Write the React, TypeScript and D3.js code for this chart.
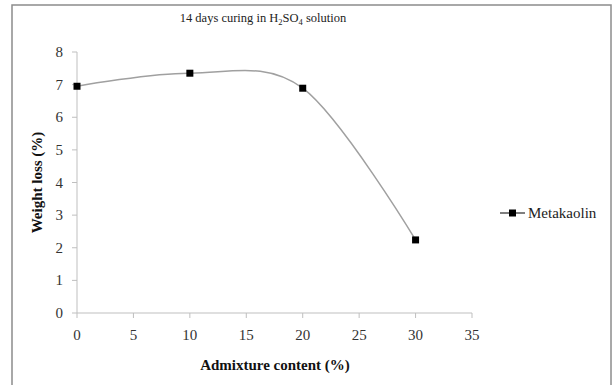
import React from "react";
import * as d3 from "d3";

const width = 612;
const height = 385;

// data
const admixture = [0, 10, 20, 30];
const weightLoss = [6.95, 7.35, 6.89, 2.24];
const xTicks = [0, 5, 10, 15, 20, 25, 30, 35];
const yTicks = [0, 1, 2, 3, 4, 5, 6, 7, 8];
const seriesName = "Metakaolin";

const plot = { left: 77, right: 472, top: 52, bottom: 313 };
const serif = "Liberation Serif, DejaVu Serif, serif";
const txt = { fontFamily: serif };

const App = () => {
  const x = d3.scaleLinear([0, 35], [plot.left, plot.right]);
  const y = d3.scaleLinear([0, 8], [plot.bottom, plot.top]);

  const points = admixture.map((a, i) => [a, weightLoss[i]] as [number, number]);
  const line = d3
    .line<[number, number]>()
    .x((d) => x(d[0]))
    .y((d) => y(d[1]))
    .curve(d3.curveCatmullRom.alpha(0));

  const legendY = 213;

  return (
    <svg
      width={width}
      height={height}
      viewBox={`0 0 ${width} ${height}`}
      style={{ position: "absolute", left: 0, top: 0, background: "#fff" }}
    >
      <rect x={12} y={5} width={599} height={400} fill="#fff" stroke="#8c8c8c" strokeWidth={1.5} />

      <text x={263} y={22} textAnchor="middle" fontSize={12.5} fill="#222" style={txt}>
        14 days curing in H
        <tspan fontSize={8.5} dy={3}>2</tspan>
        <tspan dy={-3}>SO</tspan>
        <tspan fontSize={8.5} dy={3}>4</tspan>
        <tspan dy={-3}> solution</tspan>
      </text>

      {/* y axis */}
      <line x1={plot.left} x2={plot.left} y1={plot.top} y2={plot.bottom} stroke="#bfbfbf" />
      {yTicks.map((t) => (
        <g key={"y" + t}>
          <line x1={plot.left - 5} x2={plot.left} y1={y(t)} y2={y(t)} stroke="#bfbfbf" />
          <text x={63} y={y(t) + 5} textAnchor="end" fontSize={15} fill="#333" style={txt}>
            {t}
          </text>
        </g>
      ))}

      {/* x axis */}
      <line x1={plot.left} x2={plot.right} y1={plot.bottom} y2={plot.bottom} stroke="#bfbfbf" />
      {xTicks.map((t) => (
        <g key={"x" + t}>
          <line x1={x(t)} x2={x(t)} y1={plot.bottom} y2={plot.bottom + 5} stroke="#bfbfbf" />
          <text x={x(t)} y={340} textAnchor="middle" fontSize={15} fill="#333" style={txt}>
            {t}
          </text>
        </g>
      ))}

      <text x={275} y={370} textAnchor="middle" fontSize={15} fontWeight="bold" fill="#111" style={txt}>
        Admixture content (%)
      </text>
      <text
        transform={`translate(42, ${(plot.top + plot.bottom) / 2}) rotate(-90)`}
        textAnchor="middle"
        fontSize={15}
        fontWeight="bold"
        fill="#111"
        style={txt}
      >
        Weight loss (%)
      </text>

      {/* series */}
      <path d={line(points) ?? ""} fill="none" stroke="#a0a0a0" strokeWidth={1.5} />
      {points.map((p, i) => (
        <rect key={i} x={x(p[0]) - 3.5} y={y(p[1]) - 3.5} width={7} height={7} fill="#000" />
      ))}

      {/* legend */}
      <line x1={500} x2={525} y1={legendY} y2={legendY} stroke="#555" strokeWidth={1.5} />
      <rect x={509} y={legendY - 3.5} width={7} height={7} fill="#000" />
      <text x={528} y={legendY + 5} fontSize={15} fill="#222" style={txt}>
        {seriesName}
      </text>
    </svg>
  );
};

export default App;
